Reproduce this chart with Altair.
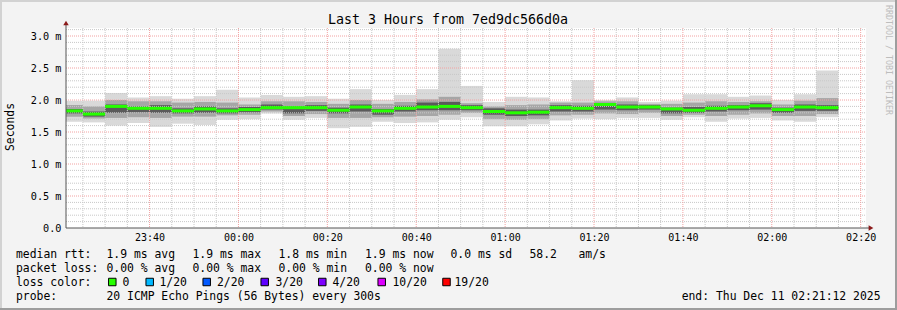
import altair as alt
import pandas as pd

# ---- data (minutes since 23:00 for bar starts; 5-minute steps) ----
bar_start = list(range(20, 195, 5))
lo = [1.66, 1.65, 1.60, 1.64, 1.58, 1.63, 1.61, 1.69, 1.70, 1.79, 1.69, 1.72, 1.56, 1.58, 1.66, 1.64, 1.65, 1.69,
      1.73, 1.59, 1.59, 1.62, 1.68, 1.71, 1.70, 1.72, 1.72, 1.69, 1.73, 1.66, 1.71, 1.72, 1.68, 1.66, 1.73]
hi = [1.99, 1.99, 2.11, 2.04, 2.06, 2.02, 2.06, 2.16, 2.04, 2.08, 2.05, 2.06, 2.02, 2.17, 2.00, 2.08, 2.17, 2.80,
      2.22, 1.97, 2.05, 2.04, 1.98, 2.31, 2.00, 2.04, 1.97, 1.99, 2.09, 2.09, 2.05, 2.07, 2.00, 2.09, 2.46]
inner_lo = [1.74, 1.71, 1.72, 1.73, 1.72, 1.74, 1.74, 1.76, 1.77, 1.82, 1.75, 1.78, 1.72, 1.72, 1.73, 1.74, 1.75, 1.77,
            1.80, 1.70, 1.69, 1.70, 1.76, 1.77, 1.79, 1.78, 1.80, 1.75, 1.77, 1.75, 1.77, 1.79, 1.75, 1.75, 1.78]
inner_hi = [1.92, 1.90, 2.00, 1.98, 1.98, 1.96, 1.97, 1.96, 1.93, 1.98, 1.98, 1.97, 1.94, 2.00, 1.94, 1.97, 2.01, 2.05,
            1.95, 1.90, 1.92, 1.93, 1.96, 1.96, 1.98, 1.98, 1.94, 1.94, 1.96, 1.98, 1.97, 1.98, 1.93, 1.99, 2.03]
core_lo = [1.79, 1.74, 1.80, 1.81, 1.80, 1.79, 1.80, 1.79, 1.81, 1.85, 1.79, 1.83, 1.79, 1.82, 1.77, 1.82, 1.84, 1.84,
           1.84, 1.77, 1.75, 1.76, 1.82, 1.82, 1.85, 1.84, 1.85, 1.79, 1.80, 1.82, 1.84, 1.85, 1.80, 1.83, 1.83]
core_hi = [1.86, 1.82, 1.93, 1.90, 1.92, 1.87, 1.90, 1.87, 1.89, 1.93, 1.90, 1.92, 1.88, 1.93, 1.86, 1.91, 1.96, 1.97,
           1.92, 1.87, 1.85, 1.85, 1.92, 1.91, 1.95, 1.93, 1.92, 1.88, 1.89, 1.91, 1.92, 1.95, 1.88, 1.93, 1.92]
median = [1.83, 1.78, 1.90, 1.87, 1.87, 1.83, 1.86, 1.83, 1.85, 1.88, 1.88, 1.88, 1.84, 1.89, 1.83, 1.87, 1.89, 1.90,
          1.88, 1.82, 1.80, 1.81, 1.88, 1.87, 1.93, 1.89, 1.89, 1.86, 1.84, 1.87, 1.89, 1.91, 1.85, 1.89, 1.88]

x_tick_labels = ["23:40", "00:00", "00:20", "00:40", "01:00", "01:20", "01:40", "02:00", "02:20"]
y_tick_labels = ["0.0" + "\u00a0\u00a0", "0.5 m", "1.0 m", "1.5 m", "2.0 m", "2.5 m", "3.0 m"]
loss_labels = ["0", "1/20", "2/20", "3/20", "4/20", "10/20", "19/20"]
loss_colors = ["#26ff00", "#00b8ff", "#0059ff", "#5e00ff", "#7e00ff", "#dd00ff", "#ff0000"]

df = pd.DataFrame({
    "start": bar_start, "end": [s + 5 for s in bar_start],
    "lo": lo, "hi": hi, "ilo": inner_lo, "ihi": inner_hi,
    "clo": core_lo, "chi": core_hi, "med": median,
})

# ---- layout ----
L, T = 66, 28
W, H = 800, 200
xs = alt.Scale(domain=[21.2, 201.2], nice=False, zero=False)
ys = alt.Scale(domain=[0, 3.125], nice=False, zero=False)
MONO = "DejaVu Sans Mono"

x_label_expr = "[" + ",".join("'%s'" % s for s in x_tick_labels) + "][round((datum.value-40)/20)]"
y_label_expr = "[" + ",".join("'%s'" % s for s in y_tick_labels) + "][round(datum.value*2)]"
xaxis = alt.Axis(values=list(range(40, 201, 20)), labelExpr=x_label_expr, title=None, domain=False,
                 ticks=False, grid=False, labelFont=MONO, labelFontSize=10, labelColor="#000000",
                 labelPadding=4, labelFlush=False, labelOverlap=False)
yaxis = alt.Axis(values=[0, 0.5, 1.0, 1.5, 2.0, 2.5, 3.0], labelExpr=y_label_expr,
                 title=None, domain=False, ticks=False, grid=False, labelFont=MONO, labelFontSize=10.2,
                 labelColor="#000000", labelPadding=5, labelOverlap=False, labelFlush=False)

base = alt.Chart(df)
outer = base.mark_rect(color="#d9d9d9", clip=True).encode(
    x=alt.X("start:Q", scale=xs, axis=xaxis), x2="end:Q",
    y=alt.Y("lo:Q", scale=ys, axis=yaxis), y2="hi:Q")
inner = base.mark_rect(color="#a6a6a6", clip=True).encode(
    x=alt.X("start:Q", scale=xs, axis=xaxis), x2="end:Q",
    y=alt.Y("ilo:Q", scale=ys, axis=yaxis), y2="ihi:Q")
core = base.mark_rect(color="#5a5a5a", clip=True).encode(
    x=alt.X("start:Q", scale=xs, axis=xaxis), x2="end:Q",
    y=alt.Y("clo:Q", scale=ys, axis=yaxis), y2="chi:Q")
med = base.mark_rule(color="#26ff00", strokeWidth=3, clip=True).encode(
    x=alt.X("start:Q", scale=xs, axis=xaxis), x2="end:Q",
    y=alt.Y("med:Q", scale=ys, axis=yaxis))

# grid lines
minor_x = [v for v in range(25, 201, 5) if v % 20 != 0]
major_x = list(range(40, 201, 20))
minor_y = [round(i * 0.1, 1) for i in range(1, 32) if i % 5 != 0]
major_y = [0.5, 1.0, 1.5, 2.0, 2.5, 3.0]


def vgrid(vals, color):
    return alt.Chart(pd.DataFrame({"start": vals})).mark_rule(color=color, strokeDash=[1, 1], strokeWidth=1).encode(
        x=alt.X("start:Q", scale=xs, axis=xaxis), y=alt.value(0), y2=alt.value(H))


def hgrid(vals, color):
    return alt.Chart(pd.DataFrame({"lo": vals})).mark_rule(color=color, strokeDash=[1, 1], strokeWidth=1).encode(
        y=alt.Y("lo:Q", scale=ys, axis=yaxis), x=alt.value(0), x2=alt.value(W))


one = pd.DataFrame({"a": [0]})


def txt(s, x, y, size=11.4, align="left", baseline="alphabetic", angle=0, color="#000000", font=MONO):
    return alt.Chart(one).mark_text(text=s, align=align, baseline=baseline, angle=angle, fontSize=size,
                                    font=font, color=color).encode(x=alt.value(x - L), y=alt.value(y - T))


def rule(x1, y1, x2, y2, color, w=1):
    return alt.Chart(one).mark_rule(color=color, strokeWidth=w).encode(
        x=alt.value(x1 - L), x2=alt.value(x2 - L), y=alt.value(y1 - T), y2=alt.value(y2 - T))


layers = [outer, inner, core,
          hgrid(minor_y, "#c8c8c8"), vgrid(minor_x, "#c8c8c8"),
          hgrid(major_y, "#f2a2a2"), vgrid(major_x, "#f2a2a2"),
          med]

# axes lines and arrows
layers += [rule(66, 24, 66, 228, "#555555"), rule(66, 228, 871, 228, "#555555")]
layers += [
    alt.Chart(one).mark_point(shape="triangle-up", filled=True, color="#8b1a1a", size=30, opacity=1).encode(
        x=alt.value(0), y=alt.value(23 - T)),
    alt.Chart(one).mark_point(shape="triangle-right", filled=True, color="#8b1a1a", size=30, opacity=1).encode(
        x=alt.value(871 - L), y=alt.value(H)),
]

# frame
layers += [rule(0, 1, 897, 1, "#d2d2d2", 2), rule(1, 0, 1, 310, "#d2d2d2", 2),
           rule(0, 309, 897, 309, "#9d9d9d", 2), rule(896, 0, 896, 310, "#9d9d9d", 2)]

# titles
layers += [txt("Last 3 Hours from 7ed9dc566d0a", 448, 24, size=13.3, align="center"),
           txt("Seconds", 10.5, 127, size=11.4, align="center", baseline="middle", angle=270),
           txt("RRDTOOL / TOBI OETIKER", 887.5, 5, size=8.3, align="left", baseline="middle", angle=90,
               color="#bdbdbd")]

# legend text
col_x = [16, 106.5, 192.5, 278.5, 365]
line1 = ["median rtt:", "1.9 ms avg", "1.9 ms max", "1.8 ms min", "1.9 ms now"]
line2 = ["packet loss:", "0.00 % avg", "0.00 % max", "0.00 % min", "0.00 % now"]
for s, x in zip(line1, col_x):
    layers.append(txt(s, x, 258))
layers += [txt("0.0 ms sd", 450.5, 258), txt("58.2", 529.5, 258), txt("am/s", 578.5, 258)]
for s, x in zip(line2, col_x):
    layers.append(txt(s, x, 272))
layers.append(txt("loss color:", 16, 286))
sq_x = [112.3, 149.7, 206.7, 264.7, 322.3, 381.7, 446.5]
lab_x = [122.5, 159.5, 217, 275.5, 332.5, 392.5, 454.5]
for c, s, sx, lx in zip(loss_colors, loss_labels, sq_x, lab_x):
    layers.append(alt.Chart(one).mark_square(color=c, filled=True, size=56, stroke="#000000", strokeWidth=1,
                                             opacity=1).encode(x=alt.value(sx - L), y=alt.value(282 - T)))
    layers.append(txt(s, lx, 286))
layers += [txt("probe:", 16, 300), txt("20 ICMP Echo Pings (56 Bytes) every 300s", 106.5, 300),
           txt("end: Thu Dec 11 02:21:12 2025", 880.5, 299.5, align="right")]

chart = alt.layer(*layers).properties(
    width=W, height=H,
    padding={"left": L, "top": T, "right": 897 - L - W, "bottom": 310 - T - H},
    autosize=alt.AutoSizeParams(type="none"),
    background="#f3f3f3",
).configure_view(fill="white", stroke=None)

chart.save("out.html", embed_options={"renderer": "svg", "actions": False})
